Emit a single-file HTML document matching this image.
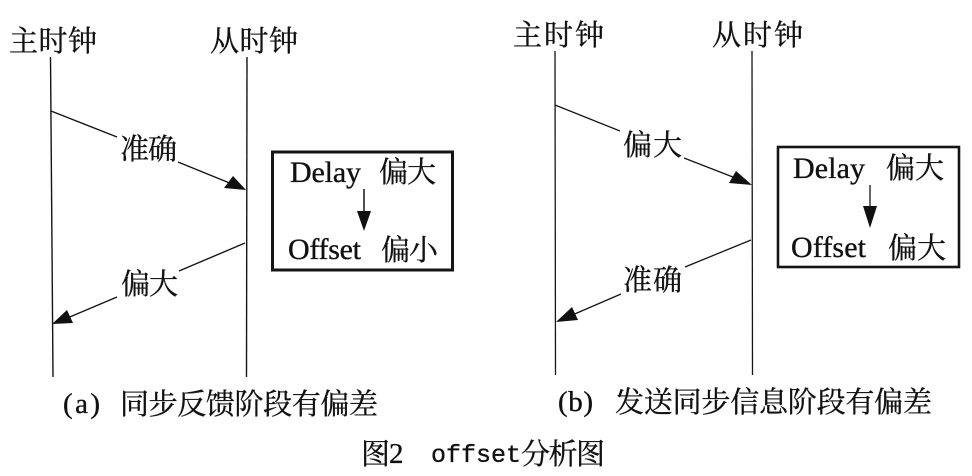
<!DOCTYPE html>
<html lang="zh">
<head>
<meta charset="utf-8">
<title>offset分析图</title>
<style>
html,body{margin:0;padding:0;background:#fff;width:972px;height:476px;overflow:hidden}
svg{display:block}
text{font-family:"Liberation Serif","Noto Serif CJK SC",serif;fill:#111;stroke:#111;stroke-width:.35px}
.c{font-size:29px}
.l{font-size:30px}
.m{font-family:"Liberation Mono","Noto Serif CJK SC",monospace;font-size:25px}
line,rect{stroke:#151515;fill:none}
path{fill:#111;stroke:none}
</style>
</head>
<body>
<svg width="972" height="476" viewBox="0 0 972 476" xmlns="http://www.w3.org/2000/svg">
<!-- (a) lifelines -->
<text class="c" x="9" y="51" textLength="88">主时钟</text>
<text class="c" x="210" y="51" textLength="88">从时钟</text>
<line x1="50.5" y1="57" x2="53" y2="377" stroke-width="1.4"/>
<line x1="247" y1="57" x2="246.5" y2="377" stroke-width="1.4"/>
<!-- (a) upper arrow -->
<line x1="51" y1="111" x2="117" y2="137" stroke-width="1.4"/>
<line x1="178" y1="162" x2="232" y2="184" stroke-width="1.4"/>
<path d="M246 190 L224 188 L233 176 Z"/>
<text class="c" x="120" y="159" textLength="57">准确</text>
<!-- (a) lower arrow -->
<line x1="245" y1="243" x2="179" y2="271" stroke-width="1.4"/>
<line x1="117" y1="297" x2="65" y2="319" stroke-width="1.4"/>
<path d="M52 324 L67 310 L73 323 Z"/>
<text class="c" x="121" y="294" textLength="57">偏大</text>
<!-- (a) box -->
<rect x="272.5" y="152" width="180" height="118" stroke-width="3"/>
<text class="l" x="290" y="182" textLength="71">Delay</text>
<text class="c" x="379" y="182" textLength="57">偏大</text>
<line x1="364" y1="189" x2="364" y2="214" stroke-width="1.5"/>
<path d="M364 231 L357 211 L371 211 Z"/>
<text class="l" x="288" y="259" textLength="73">Offset</text>
<text class="c" x="381" y="260" textLength="57">偏小</text>
<text class="c" x="63" y="413" textLength="37">(a)</text>
<text class="c" x="120" y="414" textLength="258">同步反馈阶段有偏差</text>
<!-- (b) lifelines -->
<text class="c" x="513" y="45" textLength="91">主时钟</text>
<text class="c" x="712" y="45" textLength="91">从时钟</text>
<line x1="555" y1="51" x2="555.5" y2="375" stroke-width="1.3"/>
<line x1="752" y1="51" x2="752.5" y2="375" stroke-width="1.3"/>
<!-- (b) upper arrow -->
<line x1="555" y1="105" x2="620" y2="131" stroke-width="1.3"/>
<line x1="684" y1="158" x2="738" y2="179" stroke-width="1.3"/>
<path d="M752 185 L729 183 L736 171 Z"/>
<text class="c" x="623" y="155" textLength="59">偏大</text>
<!-- (b) lower arrow -->
<line x1="751" y1="240" x2="685" y2="267" stroke-width="1.3"/>
<line x1="621" y1="294" x2="570" y2="316" stroke-width="1.3"/>
<path d="M556 322 L572 307 L578 320 Z"/>
<text class="c" x="623" y="290" textLength="59">准确</text>
<!-- (b) box -->
<rect x="778" y="147" width="181" height="120" stroke-width="2.6"/>
<text class="l" x="793" y="178" textLength="72">Delay</text>
<text class="c" x="886" y="178" textLength="58">偏大</text>
<line x1="870" y1="185" x2="870" y2="210" stroke-width="1.3"/>
<path d="M870 228 L863 206 L877 206 Z"/>
<text class="l" x="791" y="257" textLength="75">Offset</text>
<text class="c" x="888" y="258" textLength="58">偏大</text>
<text class="c" x="558" y="411" textLength="35">(b)</text>
<text class="c" x="615" y="412" textLength="317">发送同步信息阶段有偏差</text>
<!-- caption -->
<text class="c" x="361" y="464" textLength="28">图</text>
<text class="c" x="389" y="463" textLength="13">2</text>
<text class="m" x="431" y="462" textLength="90">offset</text>
<text class="c" x="521" y="464" textLength="84">分析图</text>
</svg>
</body>
</html>
